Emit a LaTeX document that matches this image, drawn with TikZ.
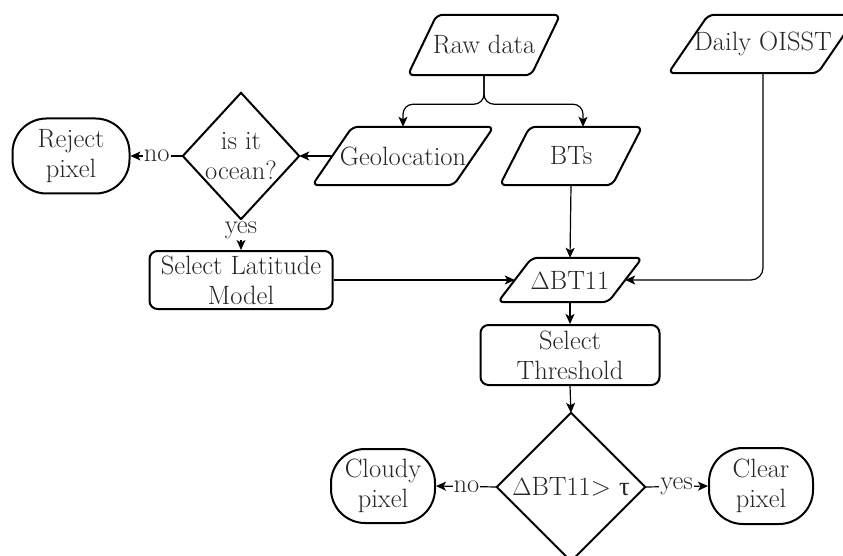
\documentclass[tikz,border=0pt]{standalone}
\usepackage{fontspec}
\usetikzlibrary{arrows.meta,calc}
\newfontfamily\greekfont{Liberation Serif}
\definecolor{txt}{HTML}{262626}
\tikzset{
  every node/.style={text=txt, font=\fontsize{26.5}{30}\selectfont, inner sep=0pt, align=center},
  shapeline/.style={draw=black, line width=2pt},
  conn/.style={draw=black, line width=1.2pt, -{Stealth[length=10pt,width=9pt,inset=2.5pt]}},
  lbl/.style={fill=white, inner sep=1pt},
  roundbox/.style={shapeline, rounded corners=8pt},
  pillbox/.style={shapeline, rounded corners=34pt},
}
\newcommand\parashape[2]{\draw[shapeline, rounded corners=6pt]
  ($(#1.north west)+(#2,0)$) -- ($(#1.north east)+(#2,0)$) --
  ($(#1.south east)-(#2,0)$) -- ($(#1.south west)-(#2,0)$) -- cycle;}
\newcommand\diashape[1]{\draw[shapeline]
  (#1.north) -- (#1.east) -- (#1.south) -- (#1.west) -- cycle;}
\begin{document}
\begin{tikzpicture}[x=1pt,y=-1pt]
\useasboundingbox (0,0) rectangle (843,556);
\clip (0,0) rectangle (843,556);
\fill[white] (0,0) rectangle (843,556);

% parallelograms (text nodes + outlines)
\node[minimum width=123pt, minimum height=60pt] (raw) at (484,45) {Raw data};
\parashape{raw}{14.5}
\node[minimum width=149pt, minimum height=58pt] (oisst) at (763,44) {Daily OISST};
\parashape{oisst}{20}
\node[minimum width=141pt, minimum height=58pt] (geo) at (403,156) {Geolocation};
\parashape{geo}{20}
\node[minimum width=112pt, minimum height=58pt] (bts) at (571,156) {BTs};
\parashape{bts}{15}
\node[minimum width=110pt, minimum height=44pt] (dbt) at (570,280) {$\Delta$BT11};
\parashape{dbt}{17}

% diamonds
\node[minimum width=116pt, minimum height=126pt] (ocean) at (241,156) {is it\\ocean?};
\diashape{ocean}
\node[minimum width=148pt, minimum height=148pt] (test) at (571,487) {$\Delta$BT11> {\greekfont τ}};
\diashape{test}

% boxes
\node[roundbox, minimum width=183pt, minimum height=58pt] (lat) at (241,280) {Select Latitude\\Model};
\node[roundbox, minimum width=179pt, minimum height=60pt] (thr) at (570,355) {Select\\Threshold};
\node[pillbox, minimum width=117pt, minimum height=75pt] (reject) at (71,156) {Reject\\pixel};
\node[pillbox, minimum width=104pt, minimum height=74pt] (cloudy) at (383,486) {Cloudy\\pixel};
\node[pillbox, minimum width=104pt, minimum height=76pt] (clear) at (761,486) {Clear\\pixel};

% connectors
\draw[conn, rounded corners=10pt] (raw.south) -- ++(0,29) -| (geo.north);
\draw[conn, rounded corners=10pt] (raw.south) -- ++(0,29) -| ([xshift=12pt]bts.north);
\draw[conn] (geo.west) -- (ocean.east);
\draw[conn] (ocean.west) -- node[lbl]{no} (reject.east);
\draw[conn] (ocean.south) -- node[lbl, pos=0.35]{yes} (lat.north);
\draw[conn] (bts.south) -- (dbt.north);
\draw[conn] (lat.east) -- (dbt.west);
\draw[conn, rounded corners=12pt] (oisst.south) |- (dbt.east);
\draw[conn] (dbt.south) -- (thr.north);
\draw[conn] (thr.south) -- (test.north);
\draw[conn] (test.west) -- node[lbl]{no} (cloudy.east);
\draw[conn] (test.east) -- node[lbl]{yes} (clear.west);
\end{tikzpicture}
\end{document}
